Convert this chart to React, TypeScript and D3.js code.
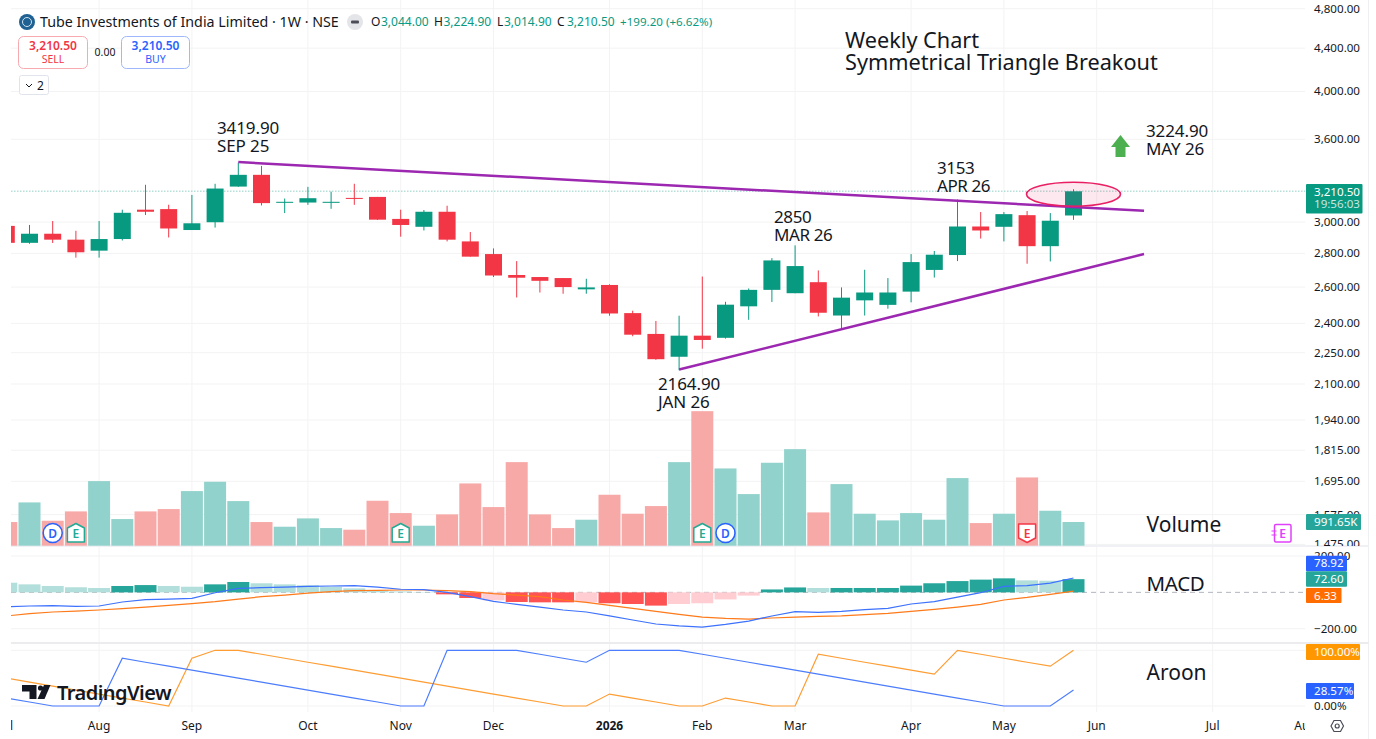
import React from 'react';
import * as d3 from 'd3';

const opens = [2975,2866,2924,2886,2817,2890,3083,3087,2948,2999,3244,3329,3130,3132,3130,3164,3171,3021,2969,3069,2875,2796,2670,2658,2652,2587,2612,2455,2345,2230,2336,2325,2492,2584,2565,2628,2442,2525,2500,2574,2700,2790,2971,2969,3046,2845,3044];
const highs = [2975,2981,3007,2943,3007,3083,3257,3117,3185,3264,3419.9,3395,3160,3242,3208,3264,3171,3083,3081,3110,2935,2831,2753,2658,2652,2648,2616,2468,2413,2441,2661,2517,2592,2771,2850,2697,2598,2701,2652,2796,2815,3153,3067,3067,3074,3060,3224.9];
const lows = [2866,2860,2865,2774,2774,2881,3047,2900,2948,2964,3242,3112,3060,3116,3089,3116,3014,2905,2945,2875,2780,2658,2541,2569,2562,2562,2441,2333,2215,2164.9,2270,2321,2419,2516,2565,2437,2372,2442,2479,2514,2655,2753,2893,2875,2737,2751,3014.9];
const closes = [2866,2924,2886,2807,2890,3062,3069,2958,2992,3230,3329,3128,3137,3162,3137,3158,3016,2981,3069,2886,2780,2667,2654,2636,2600,2598,2453,2341,2218,2336,2314,2501,2584,2757,2723,2457,2540,2569,2569,2747,2792,2971,2945,3053,2845,3009,3210.5];
const volumes = [990,1811,1045,1435,2703,1115,1435,1533,2285,2675,1867,990,794,1142,738,669,1881,1365,836,1310,2605,1616,3497,1310,738,1087,2132,1338,1658,3497,5629,3232,2160,3470,4040,1393,2578,1338,1059,1365,1087,2829,947,1338,2856,1463,991.65];
const macdHist = [53,44,35,28,24,35,40,35,31,44,57,50,44,39,31,22,9,5,2,-11,-31,-44,-53,-55,-55,-55,-60,-64,-73,-64,-60,-39,-18,16,27,24,24,24,24,37,50,62,70,77,66,64,72.6];
const macdFade = [1,1,1,1,1,0,0,1,1,0,0,1,1,1,1,1,1,1,1,0,0,1,0,0,0,1,0,0,0,1,1,1,1,0,0,1,0,0,0,0,0,0,0,0,1,1,0];
const macdLine = [-79,-75,-73,-77,-75,-53,-40,-37,-33,-2,22,26,29,33,35,37,29,17,15,0,-24,-50,-66,-81,-97,-108,-129,-152,-174,-184,-191,-176,-158,-130,-106,-110,-105,-95,-88,-64,-51,-26,-2,33,37,51,78.92];
const macdSignal = [-130,-117,-108,-103,-97,-90,-81,-72,-62,-51,-37,-24,-15,-4,4,9,11,13,13,9,4,-7,-15,-24,-42,-55,-72,-88,-105,-121,-136,-143,-147,-141,-136,-132,-129,-123,-116,-105,-94,-81,-66,-42,-28,-11,6.33];
const aroonUp = [50,42.86,35.71,28.57,21.43,14.29,7.14,0,85.71,100,100,92.86,85.71,78.57,71.43,64.29,57.14,50,42.86,35.71,28.57,21.43,14.29,7.14,0,0,21.43,14.29,7.14,0,0,14.29,7.14,0,0,92.86,85.71,78.57,71.43,64.29,57.14,100,92.86,85.71,78.57,71.43,100];
const aroonDown = [14.29,7.14,0,0,0,85.71,78.57,71.43,64.29,57.14,50,42.86,35.71,28.57,21.43,14.29,7.14,0,0,100,100,100,100,92.86,85.71,78.57,100,100,100,100,92.86,85.71,78.57,71.43,64.29,57.14,50,42.86,35.71,28.57,21.43,14.29,7.14,0,0,0,28.57];

const priceTicks = [4800,4400,4000,3600,3000,2800,2600,2400,2250,2100,1940,1815,1695,1575,1475];
const macdTicks = [200,-200];
const aroonTicks = [100,0];
const monthLabels = ['Jul','Aug','Sep','Oct','Nov','Dec','2026','Feb','Mar','Apr','May','Jun','Jul','Aug'];
const monthIndex = [0,4,8,13,17,21,26,30,34,39,43,47,52,56];
const trendUpper = [[10,3424],[49.04,3075]];
const trendLower = [[29,2168],[49.04,2796]];
const eventFlags = [[2,'D'],[3,'E'],[17,'E'],[30,'E'],[31,'D'],[44,'R']];
const ohlcLetters = ['O','H','L','C'];
const ohlcValues = ['3,044.00','3,224.90','3,014.90','3,210.50'];
const ohlcChange = '+199.20 (+6.62%)';

const GREEN = '#089981', RED = '#f23645', INK = '#131722', GRID = '#f3f3f4';
const UI = '"Noto Sans", sans-serif';
const NOTE = '"Noto Sans", sans-serif';

const x = d3.scaleLinear().domain([0, 46]).range([6.3, 1073.5]);
const y = d3.scaleLog().domain([3600, 2400]).range([139.3, 323.4]);
const yVol = d3.scaleLinear().domain([0, 991.65]).range([545.7, 522]);
const yMacd = d3.scaleLinear().domain([200, -200]).range([556, 628.7]);
const yAroon = d3.scaleLinear().domain([100, 0]).range([650.3, 706]);

const macdPath = (vals: number[]) => d3.line<number>().x((_, i) => x(i)).y(d => yMacd(d))(vals)!;
const aroonPath = (vals: number[]) => d3.line<number>().x((_, i) => x(i)).y(d => yAroon(d))(vals)!;
const trendPath = (pts: number[][]) => d3.line<number[]>().x(d => x(d[0])).y(d => y(d[1]))(pts)!;

function Note({ px, py, lines, size = 17, lead = 18, spacing = 0 }: { px: number; py: number; lines: string[]; size?: number; lead?: number; spacing?: number }) {
  return (
    <text x={px} y={py} fontFamily={NOTE} fontSize={size} fill={INK} letterSpacing={spacing}>
      {lines.map((l, i) => <tspan key={i} x={px} dy={i === 0 ? 0 : lead}>{l}</tspan>)}
    </text>
  );
}

function Tag({ ty, w, h, fill, label, sub }: { ty: number; w: number; h: number; fill: string; label: string; sub?: string }) {
  return (
    <g fontFamily={UI} fontSize={11.6} fill="#fff">
      <rect x={1306} y={ty} width={w} height={h} fill={fill} rx={1} />
      <text x={1314} y={ty + (sub ? 11.5 : h / 2 + 4)}>{label}</text>
      {sub && <text x={1314} y={ty + 24} fillOpacity={0.78}>{sub}</text>}
    </g>
  );
}

function Flag({ i, kind }: { i: number; kind: string }) {
  const cx = x(i), cy = 533;
  if (kind === 'D') {
    return (
      <g>
        <circle cx={cx} cy={cy} r={9.5} fill="#fff" stroke="#2962ff" strokeWidth={1.5} />
        <text x={cx} y={cy + 4.5} textAnchor="middle" fontFamily={UI} fontSize={12} fontWeight={600} fill="#2962ff">D</text>
      </g>
    );
  }
  const red = kind === 'R';
  const c = red ? RED : '#22ab94';
  const pts = red
    ? [[-8.5, -9], [8.5, -9], [8.5, 5], [0, 9.5], [-8.5, 5]]
    : [[0, -9.5], [8.5, -5], [8.5, 9], [-8.5, 9], [-8.5, -5]];
  return (
    <g>
      <polygon points={pts.map(p => `${cx + p[0]},${cy + p[1]}`).join(' ')} fill="#fff" stroke={c} strokeWidth={1.5} strokeLinejoin="round" />
      <text x={cx} y={cy + 4.5} textAnchor="middle" fontFamily={UI} fontSize={12} fontWeight={600} fill={c}>E</text>
    </g>
  );
}

export default function App() {
  const letterX = [371, 434, 497, 557];
  const valueX = [381, 443.5, 504, 567];
  return (
    <svg width={1376} height={739} style={{ position: 'absolute', left: 0, top: 0, display: 'block', background: '#fff' }}>
      <defs>
        <clipPath id="plot"><rect x={11} y={0} width={1294} height={739} /></clipPath>
        <clipPath id="axis"><rect x={1306} y={0} width={70} height={546} /></clipPath>
        <clipPath id="axis2"><rect x={1306} y={547} width={70} height={170} /></clipPath>
      </defs>

      {/* grids */}
      <g stroke={GRID} strokeWidth={1} clipPath="url(#plot)">
        {monthIndex.map((m, i) => <line key={i} x1={x(m)} x2={x(m)} y1={0} y2={712} />)}
        {priceTicks.map(t => <line key={t} x1={11} x2={1305} y1={y(t)} y2={y(t)} />)}
        {macdTicks.map(t => <line key={t} x1={11} x2={1305} y1={yMacd(t)} y2={yMacd(t)} />)}
        {aroonTicks.map(t => <line key={t} x1={11} x2={1305} y1={yAroon(t)} y2={yAroon(t)} />)}
      </g>
      <line x1={1368.5} x2={1368.5} y1={0} y2={739} stroke="#eeeff2" />

      {/* separators */}
      <rect x={11} y={545} width={1358} height={2} fill="#f0f1f4" />
      <rect x={11} y={642} width={1358} height={2} fill="#ececee" />

      <g clipPath="url(#plot)">
        {/* volume */}
        {volumes.map((v, i) => (
          <rect key={i} x={x(i) - 11} width={22} y={yVol(v)} height={yVol(0) - yVol(v)}
            fill={closes[i] >= opens[i] ? '#92d2cc' : '#f7a9a7'} />
        ))}

        {/* last price */}
        <line x1={11} x2={1305} y1={y(closes[46])} y2={y(closes[46])} stroke={GREEN} strokeOpacity={0.3} strokeWidth={1.5} strokeDasharray="1.5 1.5" />

        {/* candles */}
        {opens.map((o, i) => {
          const c = closes[i], col = c >= o ? GREEN : RED;
          const top = y(Math.max(o, c)), bot = y(Math.min(o, c));
          return (
            <g key={i}>
              <line x1={x(i)} x2={x(i)} y1={y(highs[i])} y2={y(lows[i])} stroke={col} strokeWidth={1} />
              <rect x={x(i) - 8.5} width={17} y={top} height={Math.max(1, bot - top)} fill={col} />
            </g>
          );
        })}

        {/* drawings */}
        <path d={trendPath(trendUpper)} stroke="#9c27b0" strokeWidth={2.5} fill="none" />
        <path d={trendPath(trendLower)} stroke="#9c27b0" strokeWidth={2.5} fill="none" />
        <ellipse cx={x(46)} cy={y(3190)} rx={47} ry={12} fill="#e91e63" fillOpacity={0.1} stroke="#e91e63" strokeWidth={1.6} />
        <polygon points="1120.5,135 1130,147 1125.5,147 1125.5,157 1115.5,157 1115.5,147 1111,147" fill="#4caf50" />

        {/* macd */}
        <line x1={11} x2={1305} y1={yMacd(0)} y2={yMacd(0)} stroke="#b2b5be" strokeDasharray="5 4" strokeWidth={1} />
        {macdHist.map((v, i) => {
          const fill = v >= 0 ? (macdFade[i] ? '#b2dfdb' : '#26a69a') : (macdFade[i] ? '#ffcdd2' : '#ff5252');
          const a = yMacd(Math.max(v, 0)), b = yMacd(Math.min(v, 0));
          return <rect key={i} x={x(i) - 11} width={22} y={a} height={b - a} fill={fill} />;
        })}
        <path d={macdPath(macdSignal)} stroke="#ff7a1a" strokeWidth={1.2} fill="none" />
        <path d={macdPath(macdLine)} stroke="#3d71ff" strokeWidth={1.2} fill="none" />

        {/* aroon */}
        <path d={aroonPath(aroonUp)} stroke="#ff9d33" strokeWidth={1.2} fill="none" />
        <path d={aroonPath(aroonDown)} stroke="#4c7dff" strokeWidth={1.2} fill="none" />

        {/* events */}
        {eventFlags.map((f, i) => <Flag key={i} i={f[0] as number} kind={f[1] as string} />)}
      </g>

      {/* notes */}
      <Note px={845} py={48} size={21.7} lead={22} lines={['Weekly Chart', 'Symmetrical Triangle Breakout']} />
      <Note px={217} py={134} lines={['3419.90', 'SEP 25']} spacing={-0.1} />
      <Note px={658} py={390} lines={['2164.90', 'JAN 26']} spacing={-0.1} />
      <Note px={774} py={223} lines={['2850', 'MAR 26']} spacing={-0.4} />
      <Note px={937} py={174} lines={['3153', 'APR 26']} spacing={-0.4} />
      <Note px={1146} py={137} lines={['3224.90', 'MAY 26']} spacing={-0.1} />
      <Note px={1146.5} py={532} size={21} lines={['Volume']} />
      <Note px={1146.5} py={591} size={20.5} lines={['MACD']} spacing={-0.3} />
      <Note px={1146.5} py={680} size={21} lines={['Aroon']} />

      {/* pink E */}
      <g>
        <rect x={1274.5} y={524.5} width={16.5} height={17.5} rx={1.5} fill="#fff" stroke="#e040fb" strokeWidth={1.5} />
        <path d="M1271.5 531h5M1271.5 535h5" stroke="#e040fb" strokeWidth={1.2} />
        <text x={1282.5} y={537.5} textAnchor="middle" fontFamily={UI} fontSize={12} fontWeight={600} fill="#e040fb">E</text>
      </g>

      {/* TradingView mark */}
      <g fill="#131722">
        <path d="M22 685h14.5v14h-7v-7.5H22z" />
        <circle cx={40.5} cy={688} r={2.6} />
        <path d="M44 685h6.5l-6 14h-7z" />
        <text x={57} y={700} fontFamily={UI} fontSize={20} fontWeight={600} letterSpacing={-0.55}>TradingView</text>
      </g>

      {/* header */}
      <circle cx={27} cy={22} r={8} fill="#1f6193" />
      <circle cx={27} cy={22} r={4.5} fill="none" stroke="#cfe3f0" strokeWidth={1} />
      <text x={40} y={27} fontFamily={UI} fontSize={14.25} fill={INK}>Tube Investments of India Limited · 1W · NSE</text>
      <circle cx={355} cy={22} r={8} fill="#e4e5e8" />
      <rect x={351} y={20.5} width={8} height={3} rx={1} fill="#4a4d57" />
      <g fontFamily={UI} fontSize={12}>
        {ohlcLetters.map((l, i) => <text key={l} x={letterX[i]} y={26} fill={INK}>{l}</text>)}
        {ohlcValues.map((v, i) => <text key={v} x={valueX[i]} y={26} fill={GREEN}>{v}</text>)}
        <text x={620} y={26} fontSize={11.6} fill={GREEN}>{ohlcChange}</text>
      </g>

      <rect x={18.5} y={36.5} width={69} height={32} rx={5} fill="#fff" stroke="#f7a9b0" />
      <text x={53} y={50} textAnchor="middle" fontFamily={UI} fontSize={12} fontWeight={600} fill={RED}>3,210.50</text>
      <text x={53} y={63} textAnchor="middle" fontFamily={UI} fontSize={10.5} fill={RED}>SELL</text>
      <text x={105} y={56} textAnchor="middle" fontFamily={UI} fontSize={10.5} fill={INK}>0.00</text>
      <rect x={121.5} y={36.5} width={68} height={32} rx={5} fill="#fff" stroke="#9db8fb" />
      <text x={155.5} y={50} textAnchor="middle" fontFamily={UI} fontSize={12} fontWeight={600} fill="#2962ff">3,210.50</text>
      <text x={155.5} y={63} textAnchor="middle" fontFamily={UI} fontSize={10.5} fill="#2962ff">BUY</text>
      <rect x={19.5} y={75.5} width={29} height={19} rx={2} fill="#fff" stroke="#e0e3eb" />
      <path d="M26 84l3 3 3-3" fill="none" stroke={INK} strokeWidth={1} />
      <text x={40.5} y={90} textAnchor="middle" fontFamily={UI} fontSize={12} fill={INK}>2</text>

      {/* price axis */}
      <g fontFamily={UI} fontSize={11.6} fill={INK} clipPath="url(#axis)">
        {priceTicks.map(t => <text key={t} x={1314} y={y(t) + 4}>{d3.format(',.2f')(t)}</text>)}
      </g>
      <g fontFamily={UI} fontSize={11.6} fill={INK} clipPath="url(#axis2)">
        {macdTicks.map(t => <text key={t} x={1314} y={yMacd(t) + 4}>{t < 0 ? `−${d3.format('.2f')(-t)}` : d3.format('.2f')(t)}</text>)}
        <text x={1314} y={yAroon(0) + 4}>0.00%</text>
      </g>

      <Tag ty={184} w={56.5} h={29.5} fill={GREEN} label="3,210.50" sub="19:56:03" />
      <Tag ty={514} w={55} h={16} fill="#26a69a" label="991.65K" />
      <Tag ty={555.7} w={41} h={15.5} fill="#2962ff" label="78.92" />
      <Tag ty={571.2} w={41} h={15.5} fill="#26a69a" label="72.60" />
      <Tag ty={588} w={35.5} h={15} fill="#ff6d00" label="6.33" />
      <Tag ty={644} w={54} h={16} fill="#ff9800" label="100.00%" />
      <Tag ty={683} w={48} h={16} fill="#2962ff" label="28.57%" />

      {/* time axis */}
      <g fontFamily={UI} fontSize={12} fill={INK} textAnchor="middle" clipPath="url(#plot)">
        {monthLabels.map((m, i) => (
          <text key={i} x={x(monthIndex[i])} y={730} fontWeight={m === '2026' ? 700 : 400}>{m}</text>
        ))}
      </g>

      {/* settings icon */}
      <polygon points="1331,726 1334,720.5 1340.5,720.5 1343.5,726 1340.5,731.5 1334,731.5" fill="none" stroke="#4a4d57" strokeWidth={1.2} />
      <circle cx={1337.2} cy={726} r={2} fill="none" stroke="#4a4d57" strokeWidth={1.2} />
    </svg>
  );
}
